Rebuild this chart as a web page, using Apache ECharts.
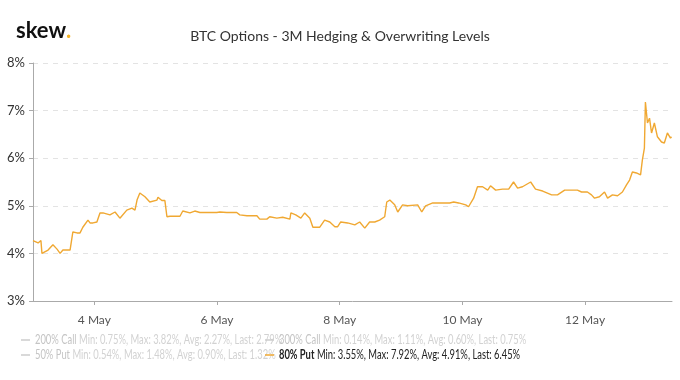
<!DOCTYPE html>
<html><head><meta charset="utf-8">
<script src="https://cdn.jsdelivr.net/npm/echarts@6/dist/echarts.min.js"></script>
<style>html,body{margin:0;padding:0;background:#fff}#c{width:680px;height:380px}</style>
</head><body><div id="c"></div>
<script>
// hours since 3 May 00:00 UTC
const hours = [0,2.0,3.1,3.5,5.9,7.8,9.4,10.6,11.7,14.5,15.6,17.2,18.4,19.5,21.5,22.3,23.5,25.0,26.2,27.4,30.1,32.1,34.0,36.7,38.7,39.9,40.7,41.8,43.8,45.7,48.5,48.9,50.4,51.6,52.4,53.6,57.5,58.6,61.4,63.3,65.3,69.2,71.9,73.1,75.8,79.7,80.9,83.7,87.6,88.7,91.5,92.6,95.4,97.7,100.5,100.9,102.8,104.8,106.3,108.3,109.5,112.2,114.1,116.1,118.1,119.2,120.4,123.1,125.9,127.8,129.8,131.7,133.7,135.6,137.6,138.4,139.6,141.5,142.7,144.6,146.6,150.5,152.1,153.6,156.4,163.0,164.6,166.5,169.3,170.4,172.4,173.9,175.9,177.9,179.0,181.0,183.7,186.1,188.0,189.6,191.5,194.7,196.6,199.4,200.1,202.9,205.2,208.0,213.0,214.6,216.9,218.5,219.7,221.6,223.6,224.8,226.7,228.7,230.6,232.2,233.4,234.5,236.1,237.7,238.4,239.2,239.6,240.4,241.2,242.0,243.1,244.3,245.9,247.0,248.2,249.4,249.8];
const put80 = [4.27,4.22,4.27,4.00,4.07,4.18,4.09,4.00,4.07,4.07,4.45,4.43,4.43,4.55,4.70,4.64,4.64,4.66,4.85,4.85,4.81,4.87,4.74,4.91,4.95,4.91,5.12,5.27,5.19,5.08,5.12,5.18,5.11,5.11,4.77,4.78,4.78,4.89,4.85,4.89,4.86,4.86,4.86,4.87,4.86,4.86,4.81,4.79,4.79,4.72,4.72,4.77,4.74,4.76,4.72,4.85,4.81,4.74,4.85,4.74,4.55,4.55,4.70,4.66,4.56,4.56,4.66,4.64,4.60,4.66,4.53,4.66,4.66,4.70,4.77,5.08,5.12,5.02,4.87,5.02,5.00,5.02,4.87,5.00,5.06,5.06,5.08,5.06,5.02,4.98,5.16,5.40,5.40,5.33,5.42,5.33,5.35,5.35,5.50,5.37,5.40,5.50,5.35,5.31,5.33,5.23,5.23,5.33,5.33,5.29,5.29,5.23,5.16,5.19,5.29,5.16,5.23,5.21,5.29,5.44,5.54,5.71,5.69,5.65,5.96,6.21,7.18,6.74,6.84,6.53,6.74,6.45,6.34,6.32,6.53,6.42,6.45];
const xTickHours = [24,72,120,168,216];
const xTickLabels = ['4 May','6 May','8 May','10 May','12 May'];
const seriesNames = ['200% Call','300% Call','50% Put','80% Put'];
const legendStats = [
  'Min: 0.75%, Max: 3.82%, Avg: 2.27%, Last: 2.79%',
  'Min: 0.14%, Max: 1.11%, Avg: 0.60%, Last: 0.75%',
  'Min: 0.54%, Max: 1.48%, Avg: 0.90%, Last: 1.32%',
  'Min: 3.55%, Max: 7.92%, Avg: 4.91%, Last: 6.45%'
];
const FONT = 'Lato';
const ORANGE = '#f0a832';
const chart = echarts.init(document.getElementById('c'), null, {renderer:'canvas'});
const legendPos = [[21,340],[265,340],[21,355],[265,355]];
const legendGraphics = seriesNames.map((n,i)=>{
  const active = i===3;
  return {type:'group', x:legendPos[i][0], y:legendPos[i][1], z:10, children:[
    {type:'line', shape:{x1:0,y1:0,x2:9,y2:0}, style:{stroke: active?ORANGE:'#cccccc', lineWidth:1.5}},
    {type:'text', x:14, y:0, scaleX:0.75, style:{
      text: active ? '{b|'+n+'} {n|'+legendStats[i]+'}' : '{gb|'+n+'} {g|'+legendStats[i]+'}',
      verticalAlign:'middle',
      rich:{
        b:{fontFamily:FONT,fontSize:12.5,fontWeight:'bold',fill:'#222'},
        n:{fontFamily:FONT,fontSize:12.5,fill:'#222'},
        gb:{fontFamily:FONT,fontSize:12.5,fill:'#c4c4c4'},
        g:{fontFamily:FONT,fontSize:12.5,fill:'#d2d2d2'}
      }}}
  ]};
});
chart.setOption({
  animation:false,
  backgroundColor:'#fff',
  title:{text:'BTC Options - 3M Hedging & Overwriting Levels', left:'center', top:24,
    textStyle:{fontFamily:FONT,fontSize:14,fontWeight:'normal',color:'#333'}},
  graphic:[{type:'text', left:16, top:20, style:{
    text:'{s|skew}{d|.}', rich:{s:{fontFamily:FONT,fontSize:22,fontWeight:'bold',fill:'#111'},d:{fontFamily:FONT,fontSize:22,fontWeight:'bold',fill:'#f5b324'}}}}
  ].concat(legendGraphics),
  grid:{left:33,right:8,top:63,bottom:79},
  xAxis:{type:'value', min:0, max:250,
    axisLine:{show:true,lineStyle:{color:'#aaa'}},
    axisTick:{show:true,customValues:xTickHours,length:4,lineStyle:{color:'#aaa'}},
    axisLabel:{customValues:xTickHours, margin:13, color:'#555', fontFamily:FONT, fontSize:12,
      formatter:v=>xTickLabels[xTickHours.indexOf(v)]},
    splitLine:{show:false}},
  yAxis:{type:'value', min:3, max:8, interval:1,
    axisLine:{show:true,lineStyle:{color:'#aaa'}},
    axisTick:{show:true,length:4,lineStyle:{color:'#aaa'}},
    axisLabel:{color:'#333',fontFamily:FONT,fontSize:13,margin:8,formatter:'{value}%'},
    splitLine:{show:true,lineStyle:{color:'#e3e3e3',type:[5,5]}}},
  series:[
    {name:'80% Put',type:'line',showSymbol:false,symbol:'none',
      data:hours.map((h,i)=>[h,put80[i]]),
      itemStyle:{color:ORANGE},lineStyle:{color:ORANGE,width:1.4}}
  ]
});
</script></body></html>
